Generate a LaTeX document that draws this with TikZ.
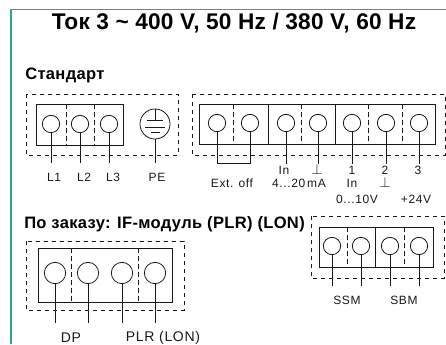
\documentclass[tikz,border=0pt]{standalone}
\usepackage{fontspec}
\usepackage{amsmath}
\setmainfont{Liberation Sans}
\newfontfamily\labelfont[LetterSpace=5]{Liberation Sans}
\newfontfamily\headfont[LetterSpace=1]{Liberation Sans}
\newfontfamily\secfont[LetterSpace=2]{Liberation Sans}
\definecolor{ttaaqq}{rgb}{0.16,0.65,0.56}
\definecolor{qqqqqq}{rgb}{0.1,0.1,0.1}
\tikzset{
  every node/.style={font=\labelfont\fontsize{9}{10}\selectfont,text=qqqqqq,inner sep=0pt},
  termsmall/.style={circle,draw=qqqqqq,line width=0.6pt,minimum size=13pt},
  termbig/.style={circle,draw=qqqqqq,line width=0.6pt,minimum size=16pt},
  outerbox/.style={draw=qqqqqq,dashed,dash pattern=on 3pt off 3pt,line width=0.6pt},
  blockbox/.style={draw=qqqqqq,line width=0.7pt},
  divider/.style={draw=qqqqqq,dash pattern=on 3.5pt off 2.5pt,line width=0.6pt},
  wire/.style={draw=qqqqqq,line width=0.6pt},
  headtext/.style={font=\headfont\bfseries\fontsize{17}{19}\selectfont,anchor=base,text=black},
  sectext/.style={font=\secfont\bfseries\fontsize{12.4}{14}\selectfont,anchor=base west,text=black},
  pinlabel/.style={anchor=base},
  gndlabel/.style={anchor=base,font=\fontsize{11}{12}\selectfont},
  biglabel/.style={anchor=base,font=\labelfont\fontsize{10.5}{12}\selectfont}
}
\begin{document}
\begin{tikzpicture}[line cap=butt,line join=miter,x=0.75pt,y=-0.75pt]
  \useasboundingbox (0,0) rectangle (446,344);
  \draw [color=ttaaqq,line width=1.1pt] (11,344) -- (11,9.5) -- (446,9.5);
  \node [headtext] (title) at (234,29) {Ток 3 \textasciitilde{} 400 V, 50 Hz / 380 V, 60 Hz};
  \node [sectext] (std) at (25,79) {Стандарт};
  \node [sectext] (opt) at (24,228.5) {По заказу: IF-модуль (PLR) (LON)};

  \draw [outerbox] (26,94) rectangle (178,155);
  \draw [blockbox] (36,104) rectangle (123,145);
  \draw [divider] (66,104) -- (66,145);
  \draw [divider] (94,104) -- (94,145);
  \node [termsmall] (La) at (51,124) {};
  \node [termsmall] (Lb) at (80,124) {};
  \node [termsmall] (Lc) at (109,124) {};
  \coordinate (Laend) at (51,163);
  \coordinate (Lbend) at (80,163);
  \coordinate (Lcend) at (109,163);
  \draw [wire] (La.south) -- (Laend);
  \draw [wire] (Lb.south) -- (Lbend);
  \draw [wire] (Lc.south) -- (Lcend);
  \node [pinlabel] (Latext) at (54,181) {L1};
  \node [pinlabel] (Lbtext) at (84,181) {L2};
  \node [pinlabel] (Lctext) at (113,181) {L3};
  \node [circle,draw=qqqqqq,line width=0.6pt,minimum size=22.5pt] (PE) at (155,124) {};
  \coordinate (PEend) at (155,163);
  \draw [wire] (PE.south) -- (PEend);
  \draw [wire] (PE.north) -- (155,120);
  \draw [wire] (147,120.5) -- (163,120.5);
  \draw [wire] (145,127) -- (165,127);
  \draw [wire] (150.5,132.7) -- (159.5,132.7);
  \node [pinlabel] (PEtext) at (157,181) {PE};

  \draw [outerbox] (192,94) rectangle (445,155);
  \draw [blockbox] (199,104) rectangle (435,144.5);
  \draw [divider] (233,104) -- (233,144.5);
  \draw [blockbox] (268,104) -- (268,144.5);
  \draw [divider] (301,104) -- (301,144.5);
  \draw [blockbox] (335,104) -- (335,144.5);
  \draw [divider] (368,104) -- (368,144.5);
  \draw [divider] (402,104) -- (402,144.5);
  \node [termsmall] (Ea) at (217,123) {};
  \node [termsmall] (Eb) at (250,123) {};
  \node [termsmall] (Ia) at (286,123) {};
  \node [termsmall] (Ib) at (318,123) {};
  \node [termsmall] (Pa) at (352,123) {};
  \node [termsmall] (Pb) at (386,123) {};
  \node [termsmall] (Pc) at (419,123) {};
  \coordinate (Eaend) at (217,163);
  \coordinate (Ebend) at (250,163);
  \coordinate (Iaend) at (286,164);
  \coordinate (Ibend) at (318,164);
  \coordinate (Paend) at (352,164);
  \coordinate (Pbend) at (386,164);
  \coordinate (Pcend) at (419,164);
  \draw [wire] (Ea.south) -- (Eaend) -- (Ebend) -- (Eb.south);
  \draw [wire] (Ia.south) -- (Iaend);
  \draw [wire] (Ib.south) -- (Ibend);
  \draw [wire] (Pa.south) -- (Paend);
  \draw [wire] (Pb.south) -- (Pbend);
  \draw [wire] (Pc.south) -- (Pcend);
  \node [pinlabel] (Iatext) at (284,174) {In};
  \node [gndlabel] (Ibtext) at (317,174) {$\perp$};
  \node [pinlabel] (Patext) at (352,174) {1};
  \node [pinlabel] (Pbtext) at (385,174) {2};
  \node [pinlabel] (Pctext) at (418,174) {3};
  \node [pinlabel] (Etext) at (232,187.5) {Ext. off};
  \node [pinlabel] (Irange) at (299,187.5) {4...20\,mA};
  \node [pinlabel] (Pain) at (352,187.5) {In};
  \node [gndlabel] (Pbgnd) at (385,187.5) {$\perp$};
  \node [pinlabel] (Parange) at (357,203) {0...10V};
  \node [pinlabel] (Pcvolt) at (416,203) {+24V};

  \draw [outerbox] (26,241) rectangle (184,310);
  \draw [blockbox] (38,248) rectangle (172,302);
  \draw [divider] (71,248) -- (71,302);
  \draw [divider] (138,248) -- (138,302);
  \node [termbig] (Da) at (55,273) {};
  \node [termbig] (Db) at (88,273) {};
  \node [termbig] (Ra) at (122,273) {};
  \node [termbig] (Rb) at (155,273) {};
  \coordinate (Daend) at (55,323);
  \coordinate (Dbend) at (88,323);
  \coordinate (Raend) at (122,323);
  \coordinate (Rbend) at (155,323);
  \draw [wire] (Da.south) -- (Daend);
  \draw [wire] (Db.south) -- (Dbend);
  \draw [wire] (Ra.south) -- (Raend);
  \draw [wire] (Rb.south) -- (Rbend);
  \node [biglabel] (DPtext) at (71,342) {DP};
  \node [biglabel] (PLRtext) at (163,341.5) {PLR (LON)};

  \draw [outerbox] (311,216) rectangle (444,278);
  \draw [blockbox] (319,227) rectangle (433,267);
  \draw [divider] (347,227) -- (347,267);
  \draw [blockbox] (375,227) -- (375,267);
  \draw [divider] (404,227) -- (404,267);
  \node [termsmall] (Sa) at (332,246) {};
  \node [termsmall] (Sb) at (361,246) {};
  \node [termsmall] (Ba) at (390,246) {};
  \node [termsmall] (Bb) at (419,246) {};
  \coordinate (Saend) at (332,286);
  \coordinate (Sbend) at (361,286);
  \coordinate (Baend) at (390,286);
  \coordinate (Bbend) at (419,286);
  \draw [wire] (Sa.south) -- (Saend);
  \draw [wire] (Sb.south) -- (Sbend);
  \draw [wire] (Ba.south) -- (Baend);
  \draw [wire] (Bb.south) -- (Bbend);
  \node [pinlabel] (SSMtext) at (347,304) {SSM};
  \node [pinlabel] (SBMtext) at (404,304) {SBM};
\end{tikzpicture}
\end{document}
